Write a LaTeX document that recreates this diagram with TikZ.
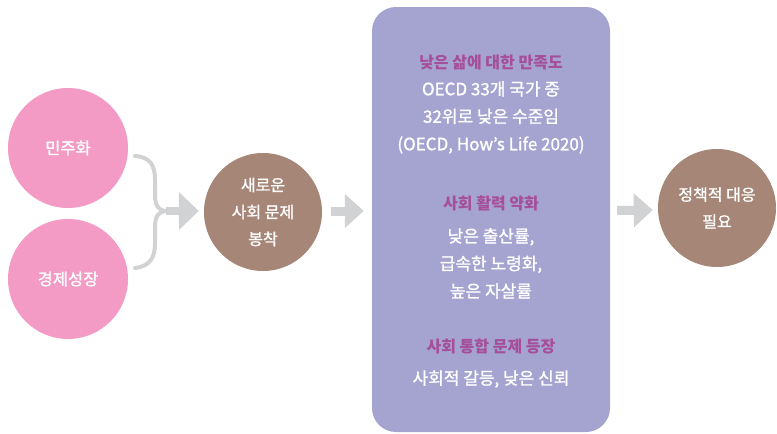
\documentclass[tikz,border=0pt]{standalone}
\usepackage{fontspec}
\setmainfont{Noto Sans CJK KR}
\newfontfamily\kr[FakeBold=1.2]{Noto Sans CJK KR}
\newfontfamily\krb{Noto Sans CJK KR}
\usetikzlibrary{arrows.meta,calc}
\definecolor{pinkc}{HTML}{F39BC5}
\definecolor{brownc}{HTML}{A68676}
\definecolor{purplec}{HTML}{A5A3D0}
\definecolor{grayc}{HTML}{D1D2D4}
\definecolor{headc}{HTML}{A54E99}
\tikzset{
  pinkcircle/.style={circle,fill=pinkc,minimum size=120pt,inner sep=0pt,text=white,font=\kr\fontsize{16.5}{18}\selectfont,align=center},
  browncircle/.style={circle,fill=brownc,minimum size=118pt,inner sep=0pt,text=white,font=\kr\fontsize{16}{27}\selectfont,align=center},
  bodytext/.style={text=white,font=\kr\fontsize{17}{27.5}\selectfont,align=center,inner sep=0pt},
  headtext/.style={text=headc,font=\krb\bfseries\fontsize{16}{27}\selectfont,align=center,inner sep=0pt},
  blockarrow/.style={draw=grayc,line width=9pt,-{Triangle[length=19pt,width=33pt]}},
  bracepart/.style={draw=grayc,line width=4pt}
}
\begin{document}
\begin{tikzpicture}[x=1pt,y=-1pt]
\useasboundingbox (0,0) rectangle (777,434);
\node[pinkcircle] (demo) at (68,148) {민주화};
\node[pinkcircle] (econ) at (68,279) {경제성장};
\node[browncircle] (newp) at (263,212) {새로운\\사회 문제\\봉착};
\node[draw=none,fill=purplec,rounded corners=24pt,minimum width=238pt,minimum height=425pt,inner sep=0pt] (box) at (491,219.5) {};
\node[browncircle] (policy) at (717,208) {정책적 대응\\필요};
% texts in box
\node[headtext] (h1) at (491,62) {낮은 삶에 대한 만족도};
\node[bodytext,anchor=north] (b1) at (491,81) {OECD 33개 국가 중\\32위로 낮은 수준임\\(OECD, How’s Life 2020)};
\node[headtext] (h2) at (491,203) {사회 활력 약화};
\node[bodytext,anchor=north] (b2) at (491,228) {낮은 출산률,\\급속한 노령화,\\높은 자살률};
\node[headtext] (h3) at (491,346) {사회 통합 문제 등장};
\node[bodytext] (b3) at (491,379) {사회적 갈등, 낮은 신뢰};
% brace
\coordinate (btop) at ($(demo.center)+(67,8)$);
\coordinate (bbot) at ($(econ.center)+(67,-11)$);
\coordinate (bmid) at (166,211);
\draw[bracepart,line cap=round] (btop) .. controls (150,157) and (155,165) .. (155,180) -- (155,195) .. controls (155,206) and (159,211) .. (bmid);
\draw[bracepart,line cap=round] (bbot) .. controls (150,266) and (155,258) .. (155,243) -- (155,227) .. controls (155,216) and (159,211) .. (bmid);
\draw[draw=grayc,line width=8pt,-{Triangle[length=20pt,width=37pt]}] (bmid) -- ($(newp.west)+(-5,-1)$);
\draw[blockarrow] ($(newp.east)+(9,-1)$) -- ($(box.west)+(-8,-8.5)$);
\draw[blockarrow] ($(box.east)+(7,-9)$) -- ($(policy.west)+(-5,2)$);
\end{tikzpicture}
\end{document}
